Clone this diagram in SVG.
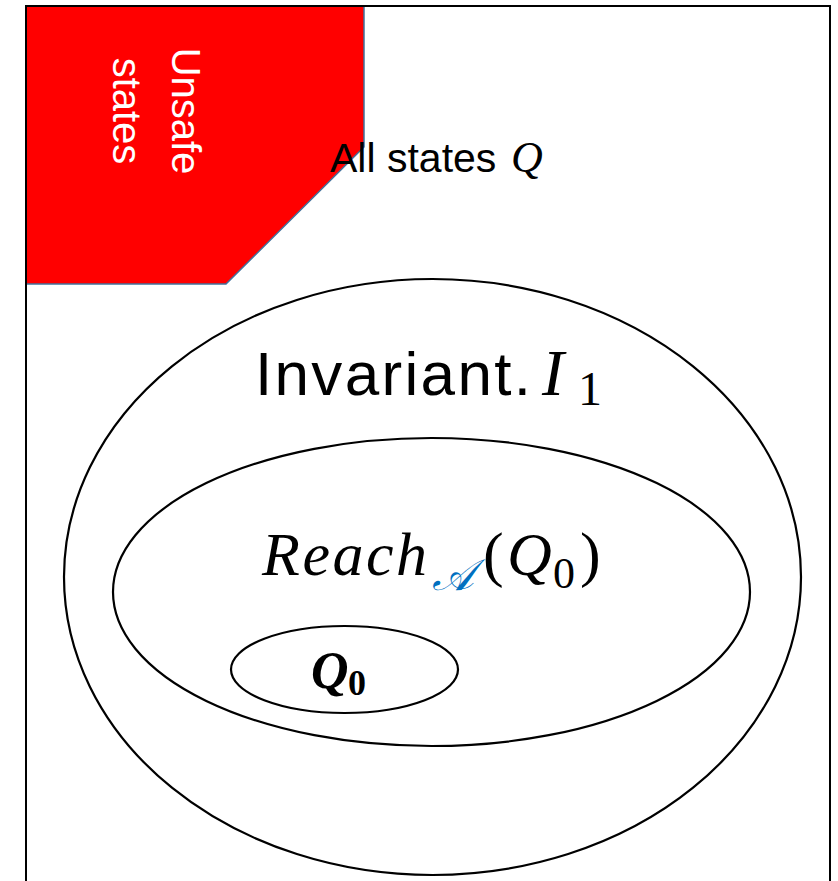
<svg xmlns="http://www.w3.org/2000/svg" width="838" height="881" viewBox="0 0 838 881">
<style>
.ell{fill:none;stroke:#000;stroke-width:2.2}
.sans{font-family:"Liberation Sans",Arial,sans-serif;fill:#000}
.math{font-family:"Liberation Serif","Times New Roman",serif;font-style:italic;fill:#000}
.up{font-family:"Liberation Serif","Times New Roman",serif;font-style:normal;fill:#000}
</style>
<rect x="0" y="0" width="838" height="881" fill="#fff"/>
<g id="unsafe">
<polygon points="26,6 364,6 364,147 226,284 26,284" fill="#ff0000" stroke="#41719c" stroke-width="1.5"/>
<g transform="translate(172,111) rotate(90)">
<text class="sans" x="0" y="0" font-size="40" text-anchor="middle" style="fill:#fff">Unsafe</text>
<text class="sans" x="0" y="59" font-size="40" text-anchor="middle" style="fill:#fff">states</text>
</g>
</g>
<g id="all-states">
<rect x="26" y="6" width="804" height="890" fill="none" stroke="#000" stroke-width="2"/>
<text class="sans" x="330" y="172" font-size="41">All states</text>
<text class="math" x="511" y="172" font-size="44">Q</text>
</g>
<g id="invariant">
<ellipse class="ell" cx="432.5" cy="577" rx="368.5" ry="298"/>
<text class="sans" x="255" y="395" font-size="62" textLength="276" lengthAdjust="spacing">Invariant.</text>
<text class="math" x="542" y="395" font-size="66">I</text>
<text class="up" x="578" y="405" font-size="48">1</text>
</g>
<g id="reach">
<ellipse class="ell" cx="431.5" cy="592" rx="318.5" ry="154"/>
<text class="math" x="262" y="575" font-size="62" textLength="165" lengthAdjust="spacing">Reach</text>
<text class="math" x="432" y="590" font-size="44" style="fill:#0070c0">𝒜</text>
<text class="up" x="483" y="575" font-size="62">(</text>
<text class="math" x="507" y="575" font-size="62">Q</text>
<text class="up" x="553" y="588" font-size="44">0</text>
<text class="up" x="580" y="575" font-size="62">)</text>
</g>
<g id="q0">
<ellipse class="ell" cx="344.5" cy="669.5" rx="113.5" ry="43.5"/>
<text class="math" x="311" y="688" font-size="52" font-weight="bold">Q</text>
<text class="up" x="348" y="695" font-size="36" font-weight="bold">0</text>
</g>
<g id="connectors"/>
</svg>
